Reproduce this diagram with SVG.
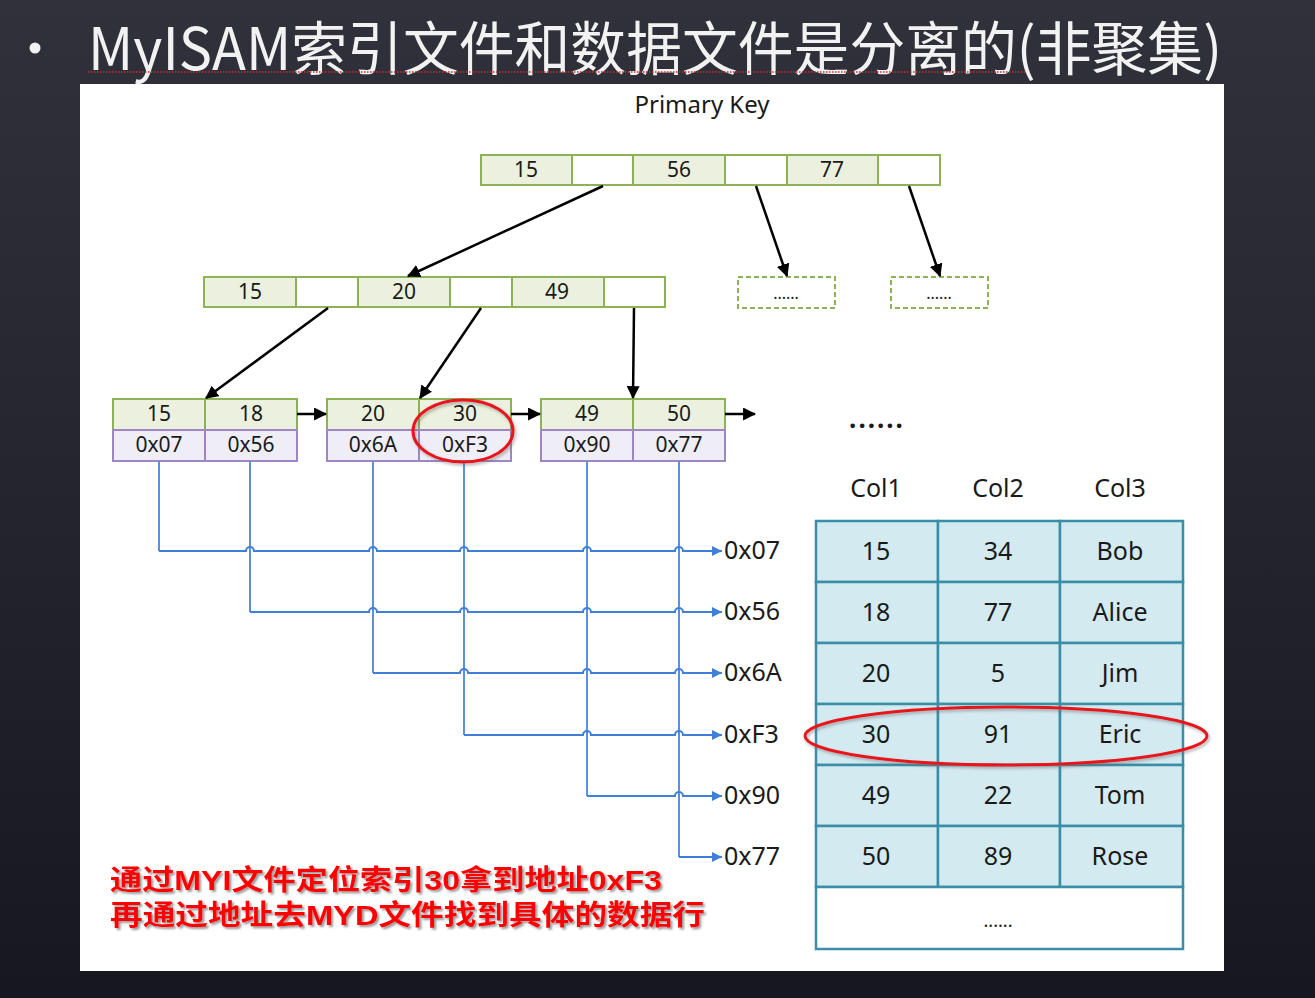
<svg xmlns="http://www.w3.org/2000/svg" width="1315" height="998" viewBox="0 0 1315 998">
  <defs>
    <linearGradient id="bg" x1="0" y1="0" x2="0" y2="1">
      <stop offset="0" stop-color="#30313a"/>
      <stop offset="1" stop-color="#17181f"/>
    </linearGradient>
    <marker id="arrBlack" viewBox="0 0 12 12" refX="11" refY="6" markerWidth="13" markerHeight="13" markerUnits="userSpaceOnUse" orient="auto">
      <path d="M0,0 L12,6 L0,12 Z" fill="#000"/>
    </marker>
    <marker id="arrBlue" viewBox="0 0 10 10" refX="10" refY="5" markerWidth="10" markerHeight="10" markerUnits="userSpaceOnUse" orient="auto">
      <path d="M0,0 L10,5 L0,10 Z" fill="#3f7fd6"/>
    </marker>
    <filter id="shadow" x="-5%" y="-20%" width="110%" height="140%">
      <feDropShadow dx="2" dy="2" stdDeviation="1.2" flood-color="#555" flood-opacity="0.6"/>
    </filter>
    <filter id="ringShadow" x="-10%" y="-30%" width="120%" height="160%">
      <feDropShadow dx="1.5" dy="2" stdDeviation="1.5" flood-color="#666" flood-opacity="0.5"/>
    </filter>
  </defs>
  <style>
    .key { fill: #ebf1de; stroke: #8db255; stroke-width: 2; }
    .ptr { fill: #ffffff; stroke: #8db255; stroke-width: 2; }
    .addr { fill: #efedf5; stroke: #9d86c2; stroke-width: 2; }
    .ghost { fill: #ffffff; stroke: #8db255; stroke-width: 2; stroke-dasharray: 5 3; }
    .cell { fill: #d3eaf0; stroke: #3a8ea6; stroke-width: 2.5; }
    .cellw { fill: #ffffff; stroke: #3a8ea6; stroke-width: 2.5; }
    .t { font-family: "Noto Sans", "Open Sans", "Noto Sans CJK SC", sans-serif; fill: #1a1a1a; text-anchor: middle; }
    .n { font-size: 21px; }
    .big { font-size: 25px; }
    .edge { stroke: #000; stroke-width: 2.5; fill: none; marker-end: url(#arrBlack); }
    .wire { stroke: #5a90dc; stroke-width: 2; fill: none; }
    .wireh { stroke: #3f7fd6; stroke-width: 2; fill: none; marker-end: url(#arrBlue); }
    .ring { fill: none; stroke: #e8141a; stroke-width: 3; filter: url(#ringShadow); }
    .note { font-family: "Liberation Sans", "Noto Sans CJK SC", sans-serif; font-size: 28px; font-weight: bold; fill: #ff0000; filter: url(#shadow); }
  </style>

  <!-- slide background -->
  <rect x="0" y="0" width="1315" height="998" fill="url(#bg)"/>

  <!-- slide title -->
  <g id="title">
    <circle cx="35" cy="48" r="5.5" fill="#f2f2f2"/>
    <text x="88" y="70" font-family="Noto Sans CJK SC, Noto Sans, sans-serif" font-size="58" fill="#f2f2f2" textLength="1134" lengthAdjust="spacingAndGlyphs">MyISAM索引文件和数据文件是分离的(非聚集)</text>
    <path d="M88,72 H1025" stroke="#d8262b" stroke-width="1.5" stroke-dasharray="1.5 1.5" fill="none"/>
  </g>

  <!-- white panel -->
  <rect x="80" y="84" width="1144" height="887" fill="#ffffff"/>

  <text class="t" x="702" y="113" font-size="24">Primary Key</text>

  <!-- root node -->
  <g id="root">
    <rect class="key" x="481" y="155" width="91" height="30"/>
    <rect class="ptr" x="572" y="155" width="61" height="30"/>
    <rect class="key" x="633" y="155" width="92" height="30"/>
    <rect class="ptr" x="725" y="155" width="62" height="30"/>
    <rect class="key" x="787" y="155" width="91" height="30"/>
    <rect class="ptr" x="878" y="155" width="62" height="30"/>
    <text class="t n" x="526" y="177">15</text>
    <text class="t n" x="679" y="177">56</text>
    <text class="t n" x="832" y="177">77</text>
  </g>

  <!-- second level node -->
  <g id="inner">
    <rect class="key" x="204" y="277" width="92" height="30"/>
    <rect class="ptr" x="296" y="277" width="62" height="30"/>
    <rect class="key" x="358" y="277" width="92" height="30"/>
    <rect class="ptr" x="450" y="277" width="62" height="30"/>
    <rect class="key" x="512" y="277" width="92" height="30"/>
    <rect class="ptr" x="604" y="277" width="61" height="30"/>
    <text class="t n" x="250" y="299">15</text>
    <text class="t n" x="404" y="299">20</text>
    <text class="t n" x="557" y="299">49</text>
  </g>

  <!-- elided sibling nodes -->
  <g id="more1">
    <rect class="ghost" x="738" y="277" width="97" height="31"/>
    <text class="t" x="786" y="299" font-size="16">......</text>
  </g>
  <g id="more2">
    <rect class="ghost" x="891" y="277" width="97" height="31"/>
    <text class="t" x="939" y="299" font-size="16">......</text>
  </g>

  <!-- leaf nodes: key row + address row -->
  <g id="leaf1">
    <rect class="key" x="113" y="399" width="92" height="31"/>
    <rect class="key" x="205" y="399" width="92" height="31"/>
    <rect class="addr" x="113" y="430" width="92" height="31"/>
    <rect class="addr" x="205" y="430" width="92" height="31"/>
    <text class="t n" x="159" y="421">15</text>
    <text class="t n" x="251" y="421">18</text>
    <text class="t n" x="159" y="452">0x07</text>
    <text class="t n" x="251" y="452">0x56</text>
  </g>
  <g id="leaf2">
    <rect class="key" x="327" y="399" width="92" height="31"/>
    <rect class="key" x="419" y="399" width="92" height="31"/>
    <rect class="addr" x="327" y="430" width="92" height="31"/>
    <rect class="addr" x="419" y="430" width="92" height="31"/>
    <text class="t n" x="373" y="421">20</text>
    <text class="t n" x="465" y="421">30</text>
    <text class="t n" x="373" y="452">0x6A</text>
    <text class="t n" x="465" y="452">0xF3</text>
  </g>
  <g id="leaf3">
    <rect class="key" x="541" y="399" width="92" height="31"/>
    <rect class="key" x="633" y="399" width="92" height="31"/>
    <rect class="addr" x="541" y="430" width="92" height="31"/>
    <rect class="addr" x="633" y="430" width="92" height="31"/>
    <text class="t n" x="587" y="421">49</text>
    <text class="t n" x="679" y="421">50</text>
    <text class="t n" x="587" y="452">0x90</text>
    <text class="t n" x="679" y="452">0x77</text>
  </g>

  <text class="t" x="877" y="428" font-size="26" font-weight="bold" letter-spacing="2">......</text>

  <!-- tree edges -->
  <g id="edges">
    <path class="edge" d="M603,186 L408,276"/>
    <path class="edge" d="M756,186 L787,276"/>
    <path class="edge" d="M909,186 L940,276"/>
    <path class="edge" d="M328,308 L206,398"/>
    <path class="edge" d="M481,308 L420,398"/>
    <path class="edge" d="M634,308 L633,398"/>
    <path class="edge" d="M297,414 L326,414"/>
    <path class="edge" d="M511,414 L540,414"/>
    <path class="edge" d="M725,414 L755,414"/>
  </g>

  <!-- address pointers from leaves into the data file -->
  <g id="pointers">
    <path class="wire" d="M159,461 V551 M250,461 V612 M373,461 V673 M464,461 V735 M587,461 V796 M679,461 V857"/>
    <path class="wireh" d="M159,551 H246 A4,4 0 0 1 254,551 H369 A4,4 0 0 1 377,551 H460 A4,4 0 0 1 468,551 H583 A4,4 0 0 1 591,551 H675 A4,4 0 0 1 683,551 H722"/>
    <path class="wireh" d="M250,612 H369 A4,4 0 0 1 377,612 H460 A4,4 0 0 1 468,612 H583 A4,4 0 0 1 591,612 H675 A4,4 0 0 1 683,612 H722"/>
    <path class="wireh" d="M373,673 H460 A4,4 0 0 1 468,673 H583 A4,4 0 0 1 591,673 H675 A4,4 0 0 1 683,673 H722"/>
    <path class="wireh" d="M464,735 H583 A4,4 0 0 1 591,735 H675 A4,4 0 0 1 683,735 H722"/>
    <path class="wireh" d="M587,796 H675 A4,4 0 0 1 683,796 H722"/>
    <path class="wireh" d="M679,857 H722"/>
  </g>

  <!-- address labels -->
  <g id="addresses" font-family="Noto Sans, Open Sans, sans-serif" font-size="25" fill="#1a1a1a">
    <text x="724" y="559">0x07</text>
    <text x="724" y="620">0x56</text>
    <text x="724" y="681">0x6A</text>
    <text x="724" y="743">0xF3</text>
    <text x="724" y="804">0x90</text>
    <text x="724" y="865">0x77</text>
  </g>

  <!-- data file table -->
  <g id="datafile">
    <text class="t big" x="876" y="497">Col1</text>
    <text class="t big" x="998" y="497">Col2</text>
    <text class="t big" x="1120" y="497">Col3</text>

    <rect class="cell" x="816" y="521" width="122" height="61"/>
    <rect class="cell" x="938" y="521" width="122" height="61"/>
    <rect class="cell" x="1060" y="521" width="123" height="61"/>
    <rect class="cell" x="816" y="582" width="122" height="61"/>
    <rect class="cell" x="938" y="582" width="122" height="61"/>
    <rect class="cell" x="1060" y="582" width="123" height="61"/>
    <rect class="cell" x="816" y="643" width="122" height="61"/>
    <rect class="cell" x="938" y="643" width="122" height="61"/>
    <rect class="cell" x="1060" y="643" width="123" height="61"/>
    <rect class="cell" x="816" y="704" width="122" height="61"/>
    <rect class="cell" x="938" y="704" width="122" height="61"/>
    <rect class="cell" x="1060" y="704" width="123" height="61"/>
    <rect class="cell" x="816" y="765" width="122" height="61"/>
    <rect class="cell" x="938" y="765" width="122" height="61"/>
    <rect class="cell" x="1060" y="765" width="123" height="61"/>
    <rect class="cell" x="816" y="826" width="122" height="61"/>
    <rect class="cell" x="938" y="826" width="122" height="61"/>
    <rect class="cell" x="1060" y="826" width="123" height="61"/>
    <rect class="cellw" x="816" y="887" width="367" height="62"/>

    <text class="t big" x="876" y="560">15</text>
    <text class="t big" x="998" y="560">34</text>
    <text class="t big" x="1120" y="560">Bob</text>
    <text class="t big" x="876" y="621">18</text>
    <text class="t big" x="998" y="621">77</text>
    <text class="t big" x="1120" y="621">Alice</text>
    <text class="t big" x="876" y="682">20</text>
    <text class="t big" x="998" y="682">5</text>
    <text class="t big" x="1120" y="682">Jim</text>
    <text class="t big" x="876" y="743">30</text>
    <text class="t big" x="998" y="743">91</text>
    <text class="t big" x="1120" y="743">Eric</text>
    <text class="t big" x="876" y="804">49</text>
    <text class="t big" x="998" y="804">22</text>
    <text class="t big" x="1120" y="804">Tom</text>
    <text class="t big" x="876" y="865">50</text>
    <text class="t big" x="998" y="865">89</text>
    <text class="t big" x="1120" y="865">Rose</text>
    <text class="t" x="998" y="927" font-size="18">......</text>
  </g>

  <!-- highlight rings -->
  <ellipse class="ring" cx="463" cy="431" rx="50" ry="31"/>
  <ellipse class="ring" cx="1006" cy="736" rx="201" ry="29"/>

  <!-- explanation -->
  <g id="note">
    <text class="note" x="110" y="890" textLength="552" lengthAdjust="spacingAndGlyphs">通过MYI文件定位索引30拿到地址0xF3</text>
    <text class="note" x="110" y="925" textLength="595" lengthAdjust="spacingAndGlyphs">再通过地址去MYD文件找到具体的数据行</text>
  </g>
</svg>
